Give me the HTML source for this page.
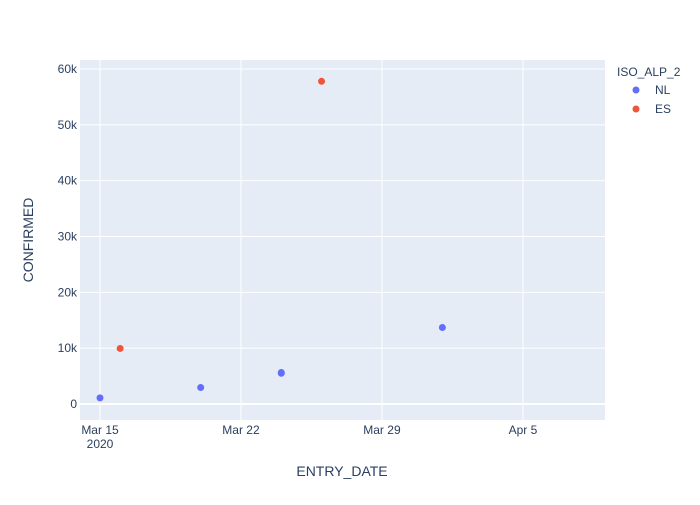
<!DOCTYPE html>
<html><head><meta charset="utf-8"><style>
body{margin:0;background:#fff;font-family:"Liberation Sans",sans-serif}
svg text{font-family:"Liberation Sans",sans-serif;fill:#2a3f5f}
</style></head><body>
<svg id="chart" width="700" height="500">
<rect x="80" y="60" width="525" height="360" fill="#e5ecf6"/>
<g id="grid"></g><g id="pts"></g><g id="ticks"></g>
<text x="342" y="476" font-size="14" text-anchor="middle">ENTRY_DATE</text>
<text x="33" y="240" font-size="14" text-anchor="middle" transform="rotate(-90 33 240)">CONFIRMED</text>
<text x="617" y="76" font-size="12">ISO_ALP_2</text>
<g><circle cx="636" cy="90" r="3.5" fill="#636efa"/><text x="655" y="94" font-size="12">NL</text></g>
<g><circle cx="636" cy="109" r="3.5" fill="#ef553b"/><text x="655" y="113" font-size="12">ES</text></g>
</svg>
<script>
const nlDays=[0,5,9,9,17];
const nlValues=[1100,2950,5500,5650,13700];
const esDays=[1,11];
const esValues=[9950,57800];
const yTicks=[0,10000,20000,30000,40000,50000,60000];
const yTickLabels=["0","10k","20k","30k","40k","50k","60k"];
const xTicks=[0,7,14,21];
const xTickLabels=["Mar 15","Mar 22","Mar 29","Apr 5"];
const NS="http://www.w3.org/2000/svg";
const xs=d=>100+d*20.14;
const ys=v=>404-v*0.005583;
function mk(t,a,p){const e=document.createElementNS(NS,t);for(const k in a)e.setAttribute(k,a[k]);p.appendChild(e);return e;}
const g=document.getElementById('grid'),tk=document.getElementById('ticks'),pts=document.getElementById('pts');
yTicks.forEach((v,i)=>{
 const l=mk('line',{x1:80,x2:605,y1:ys(v),y2:ys(v),stroke:'#fff','stroke-width':v===0?2:1},g);
 
 
 const t=mk('text',{x:77,y:ys(v)+4,'font-size':12,'text-anchor':'end'},tk);t.textContent=yTickLabels[i];
 
 
});
xTicks.forEach((d,i)=>{
 const l=mk('line',{x1:xs(d),x2:xs(d),y1:60,y2:420,stroke:'#fff','stroke-width':1},g);
 
 
 const t=mk('text',{x:xs(d),y:434,'font-size':12,'text-anchor':'middle'},tk);t.textContent=xTickLabels[i];
 
 
});
const y2=mk('text',{x:xs(0),y:448,'font-size':12,'text-anchor':'middle'},tk);y2.textContent="2020";


nlDays.forEach((d,i)=>{const c=mk('circle',{cx:xs(d),cy:ys(nlValues[i]),r:3.5,fill:'#636efa'},pts);
 
 });
esDays.forEach((d,i)=>{const c=mk('circle',{cx:xs(d),cy:ys(esValues[i]),r:3.5,fill:'#ef553b'},pts);
 
 });
</script>
</body></html>
